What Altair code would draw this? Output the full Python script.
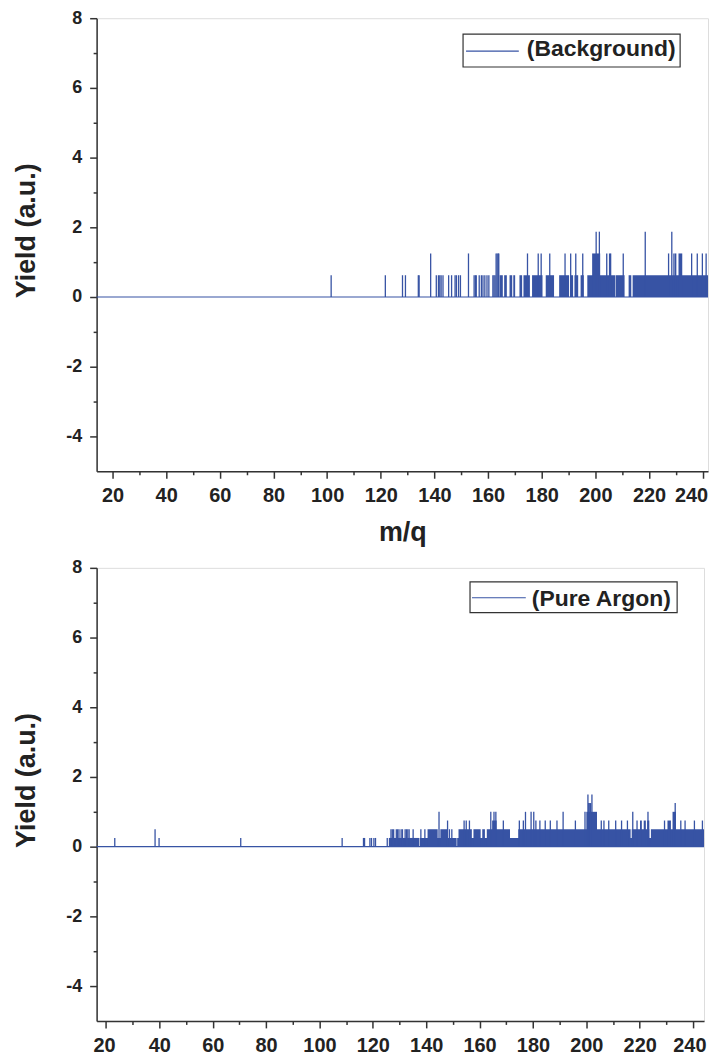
import altair as alt
import pandas as pd

BLUE = "#3753a4"
FONT = "Liberation Sans"

# ---------------- Top panel: (Background) ----------------
TOP_NAME = "(Background)"
TOP_XDOM = [14.06, 242]
# isolated sticks (m/q, yield)
TOP_SPIKE_X = [101.5, 121.7, 128.1, 129.2, 134.0, 134.3, 140.7, 141.5, 142.0, 142.5,
               143.2, 145.3, 146.4, 147.7, 148.2, 149.0, 149.7, 154.8, 155.3, 155.6,
               156.7, 157.5, 158.1, 158.8, 159.6, 160.3, 161.8, 162.2, 162.6,
               138.6, 152.7, 163.0, 163.4, 163.8, 164.0, 174.7, 178.7, 179.8, 183.0,
               188.7, 190.8, 192.7, 195.3, 205.3, 205.7, 210.4, 227.3, 229.3, 235.9,
               238.0, 239.9, 241.3,
               200.3, 201.5, 218.6, 228.5]
TOP_SPIKE_Y = [0.625] * 29 + [1.25] * 23 + [1.875] * 4
# densely filled stretches (start, end, yield)
TOP_BAND_X0 = [164.3, 166.0, 168.0, 169.4, 171.7, 173.2, 176.4, 181.5, 186.5, 190.6,
               192.2, 194.5, 197.0, 207.7, 212.4, 213.9,
               198.8, 204.0, 229.6, 231.0]
TOP_BAND_X1 = [165.5, 167.0, 169.0, 170.1, 172.7, 175.6, 180.3, 184.6, 190.2, 191.7,
               193.6, 195.7, 207.5, 210.9, 213.4, 242.0,
               201.8, 204.5, 230.2, 232.4]
TOP_BAND_Y = [0.625] * 16 + [1.25] * 4

# ---------------- Bottom panel: (Pure Argon) ----------------
BOT_NAME = "(Pure Argon)"
BOT_XDOM = [16.5, 244.1]
BOT_SPIKE_X = [23.3, 39.9, 70.5, 108.5, 116.5, 116.9, 118.9, 119.5, 120.4, 121.0, 125.4,
               38.4, 126.8, 127.3, 127.8, 128.8, 129.3, 129.8, 130.6, 131.1, 132.1, 132.6,
               133.1, 133.6, 135.1, 138.0, 139.5, 148.7, 149.6,
               148.0, 154.2, 155.0, 156.2, 168.9, 174.9, 176.4, 181.1, 182.6, 184.6, 186.5,
               189.0, 195.9, 205.6, 206.6, 208.4, 211.0, 213.2, 215.4, 219.0, 229.3, 235.4,
               237.0, 240.5, 243.5,
               144.8, 164.2, 165.4, 166.1, 177.2, 179.3, 180.3, 191.3, 199.5, 217.4, 223.1,
               200.9, 201.3, 201.6, 233.3,
               200.6, 202.1]
BOT_SPIKE_Y = [0.25] * 11 + [0.5] * 18 + [0.75] * 25 + [1.0] * 11 + [1.25] * 4 + [1.5] * 2
BOT_BAND_X0 = [126.0, 137.6, 151.6,
               140.5, 145.3, 152.1, 157.7, 161.0, 162.7, 174.5, 217.0, 224.2,
               164.7, 220.1, 221.5, 222.8, 230.4,
               200.0, 232.3]
BOT_BAND_X1 = [137.4, 151.4, 244.1,
               144.3, 147.8, 157.1, 160.4, 162.0, 171.4, 216.6, 223.6, 244.1,
               166.4, 220.8, 222.3, 223.6, 231.7,
               204.0, 233.6]
BOT_BAND_Y = [0.25] * 3 + [0.5] * 9 + [0.75] * 5 + [1.0] * 2

X_MAJOR = list(range(20, 241, 20))
X_MINOR = list(range(30, 240, 20))
Y_MAJOR = [-4, -2, 0, 2, 4, 6, 8]
Y_MINOR = [-3, -1, 1, 3, 5, 7]

HYPHEN = "replace(datum.label, '\u2212', '-')"


def panel(name, xdom, sx, sy, bx0, bx1, by, width, xtitle, leg, flush, flush_off):
    base_df = pd.DataFrame({"x0": [xdom[0]], "x1": [xdom[1]], "y": [0.0], "series": [name]})
    spike_df = pd.DataFrame({"x": sx, "y": sy, "y0": [0.0] * len(sx)})
    band_df = pd.DataFrame({"x0": bx0, "x1": bx1, "y1": by, "y0": [0.0] * len(bx0)})

    xs = alt.Scale(domain=xdom, nice=False, zero=False)
    ys = alt.Scale(domain=[-5, 8], nice=False, zero=False)

    common = dict(domainColor="#333333", domainWidth=1.5, tickColor="#333333", tickWidth=1.5,
                  labelFont=FONT, labelFontWeight="bold", labelColor="#222222",
                  titleFont=FONT, titleFontWeight="bold", titleFontSize=27, titleColor="#222222",
                  grid=False, labelExpr=HYPHEN)
    xopts = dict(values=X_MAJOR, tickSize=7, labelFontSize=20, orient="bottom",
                 labelFlush=flush, labelFlushOffset=flush_off, **common)
    if xtitle:
        x_major = alt.Axis(labelPadding=7, title=xtitle, titlePadding=15, **xopts)
    else:
        x_major = alt.Axis(labelPadding=8, title=None, **xopts)
    y_major = alt.Axis(values=Y_MAJOR, tickSize=7, labelPadding=8, labelFontSize=18,
                       title="Yield (a.u.)", titlePadding=25, titleY=213, orient="left",
                       **common)
    x_minor = alt.Axis(values=X_MINOR, tickSize=3.5, labels=False, domain=False, title=None,
                       orient="bottom", tickColor="#333333", tickWidth=1.5, grid=False)
    y_minor = alt.Axis(values=Y_MINOR, tickSize=3.5, labels=False, domain=False, title=None,
                       orient="left", tickColor="#333333", tickWidth=1.5, grid=False)

    baseline = alt.Chart(base_df).mark_rule(color=BLUE, strokeWidth=1.2).encode(
        x=alt.X("x0:Q", scale=xs, axis=x_major),
        x2="x1:Q",
        y=alt.Y("y:Q", scale=ys, axis=y_major),
    )
    bands = alt.Chart(band_df).mark_rect(color=BLUE).encode(
        x=alt.X("x0:Q", scale=xs, axis=x_minor),
        x2="x1:Q",
        y=alt.Y("y0:Q", scale=ys, axis=y_minor),
        y2="y1:Q",
    )
    spikes = alt.Chart(spike_df).mark_rule(color=BLUE, strokeWidth=1.3).encode(
        x=alt.X("x:Q", scale=xs, axis=None),
        y=alt.Y("y0:Q", scale=ys, axis=None),
        y2="y:Q",
    )
    # legend box (drawn in plot-pixel space)
    bx0_, bx1_, by0_, by1_, lx0, lx1, ly, tx, ty = leg
    leg_box = alt.Chart(base_df).mark_rect(fill="white", stroke="#333333", strokeWidth=1.2).encode(
        x=alt.value(bx0_), x2=alt.value(bx1_), y=alt.value(by0_), y2=alt.value(by1_))
    leg_line = alt.Chart(base_df).mark_rule(color=BLUE, strokeWidth=1.2).encode(
        x=alt.value(lx0), x2=alt.value(lx1), y=alt.value(ly))
    leg_text = alt.Chart(base_df).mark_text(
        align="left", baseline="middle", font=FONT, fontWeight="bold", fontSize=23,
        color="#222222").encode(x=alt.value(tx), y=alt.value(ty), text="series:N")
    return alt.layer(bands, spikes, baseline, leg_box, leg_line, leg_text).resolve_axis(
        x="independent", y="independent"
    ).properties(width=width, height=455)


top = panel(TOP_NAME, TOP_XDOM, TOP_SPIKE_X, TOP_SPIKE_Y, TOP_BAND_X0, TOP_BAND_X1, TOP_BAND_Y,
            614, "m/q", (368, 586, 16, 49, 371, 424, 33, 432, 30.5), 6, 5)
bottom = panel(BOT_NAME, BOT_XDOM, BOT_SPIKE_X, BOT_SPIKE_Y, BOT_BAND_X0, BOT_BAND_X1,
               BOT_BAND_Y, 610, None, (375, 583, 14, 45, 377, 431, 30, 437, 31), 12, 13)

chart = alt.vconcat(top, bottom, spacing=11).resolve_scale(
    x="independent", y="independent"
).properties(
    padding={"left": 4, "top": -2, "right": -1, "bottom": 0}
).configure_view(
    stroke="#333333", strokeWidth=1.5
).configure(background="white")

chart.save("out.html", embed_options={"renderer": "svg", "actions": False})
